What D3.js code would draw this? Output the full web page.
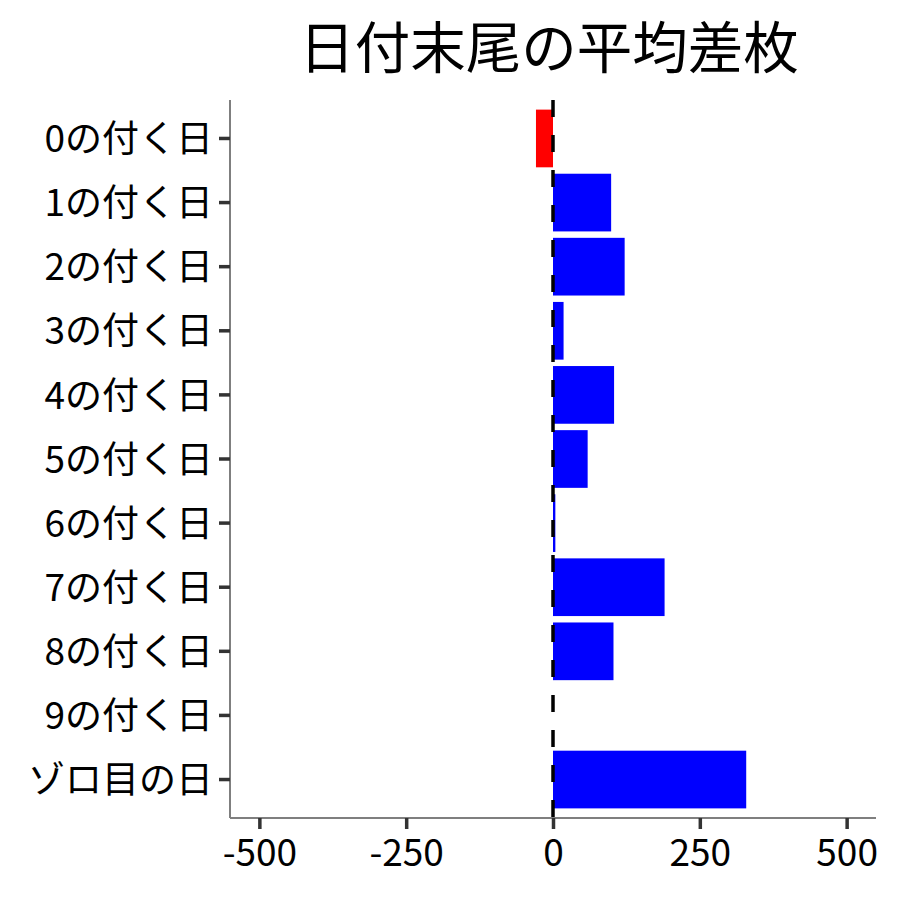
<!DOCTYPE html>
<html lang="ja">
<head>
<meta charset="UTF-8">
<title>日付末尾の平均差枚</title>
<script src="https://d3js.org/d3.v7.min.js"></script>
<style>
  body { margin: 0; background: #fff; }
  text { font-family: "Noto Sans CJK JP", "Noto Sans", sans-serif; }
</style>
</head>
<body>
<div id="chart"></div>
<script>
    // 日付末尾ごとの平均差枚
    let categories = ['0の付く日','1の付く日','2の付く日','3の付く日','4の付く日','5の付く日',
                      '6の付く日','7の付く日','8の付く日','9の付く日','ゾロ目の日'],
        values = [-29, 99, 122, 18, 104, 59, 4, 190, 103, 0, 329],
        xTicks = [-500, -250, 0, 250, 500],
        title = '日付末尾の平均差枚';

    let W = 900, H = 900,
        mLeft = 230, mRight = 876, mTop = 100, mBottom = 818;

    let svg = d3.select('#chart').append('svg')
        .attr('width', W).attr('height', H);

    let x = d3.scaleLinear().domain([-550, 550]).range([mLeft, mRight]),
        y = d3.scaleBand().domain(categories).range([mTop, mBottom])
            .paddingInner(0.1).paddingOuter(0.15);

    // bars
    svg.append('g').selectAll('rect').data(categories).enter().append('rect')
        .attr('x', (d,i) => x(Math.min(0, values[i])))
        .attr('width', (d,i) => Math.abs(x(values[i]) - x(0)))
        .attr('y', d => y(d))
        .attr('height', y.bandwidth())
        .attr('fill', (d,i) => values[i] < 0 ? '#ff0000' : '#0000ff');

    // zero line (dashed)
    svg.append('line')
        .attr('x1', x(0)).attr('x2', x(0))
        .attr('y1', mTop).attr('y2', mBottom)
        .attr('stroke', '#000').attr('stroke-width', 3.5)
        .attr('stroke-dasharray', '17,18');

    // x axis (plain hyphen for negatives)
    let xAxis = svg.append('g').attr('transform', 'translate(0,' + mBottom + ')')
        .call(d3.axisBottom(x).tickValues(xTicks).tickSize(11).tickPadding(7).tickFormat(d => String(d)));
    // y axis
    let yAxis = svg.append('g').attr('transform', 'translate(' + mLeft + ',0)')
        .call(d3.axisLeft(y).tickSize(11).tickPadding(6));

    [xAxis, yAxis].forEach(a => {
        a.select('.domain').attr('stroke', '#7f7f7f').attr('stroke-width', 2);
        a.selectAll('.tick line').attr('stroke', '#333').attr('stroke-width', 3.5);
        a.selectAll('.tick text').attr('fill', '#000').style('font-size', '37px')
            .style('font-family', '"Noto Sans CJK JP", sans-serif');
    });
    // domain without outer ticks
    xAxis.select('.domain').attr('d', 'M' + mLeft + ',0H' + mRight);
    yAxis.select('.domain').attr('d', 'M0,' + mTop + 'V' + mBottom);
    xAxis.selectAll('.tick text').attr('dy', '0.82em');
    yAxis.selectAll('.tick text').attr('dy', '0.37em');

    // title
    svg.append('text')
        .attr('x', (mLeft + mRight) / 2 - 4).attr('y', 68)
        .attr('text-anchor', 'middle')
        .style('font-size', '55.5px')
        .text(title);
</script>
</body>
</html>
